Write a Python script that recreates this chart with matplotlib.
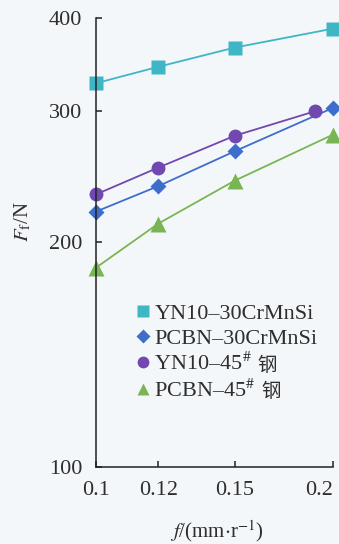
import matplotlib
matplotlib.use('Agg')
from matplotlib import pyplot as plt
from matplotlib.ticker import FixedLocator, FixedFormatter, NullLocator
from matplotlib.transforms import IdentityTransform

matplotlib.rcParams.update({
    'font.family': ['Liberation Serif', 'Noto Sans CJK SC'],
    'mathtext.fontset': 'stix',
})

# feed rate f (mm/r) and main cutting force Ff (N)
f = [0.1, 0.12, 0.15, 0.2]
f_yn10_45 = [0.1, 0.12, 0.15, 0.19]
yn10_cr = [327, 344, 365, 387]
pcbn_cr = [220, 238, 265, 303]
yn10_45 = [232, 252, 278, 300]
pcbn_45 = [185, 212, 242, 279]

xticks = [0.1, 0.12, 0.15, 0.2]
xticklabels = ['0.1', '0.12', '0.15', '0.2']
yticks = [100, 200, 300, 400]
yticklabels = ['100', '200', '300', '400']

bg = '#f4f7fa'
fig = plt.figure(figsize=(3.39, 5.44), dpi=100, facecolor=bg)
ax = fig.add_axes([0.283, 0.1415, 0.699, 0.8255], facecolor=bg)

ax.plot(f, yn10_cr, color='#3fb6c6', lw=1.3, marker='s', ms=10, mec='none',
        label='YN10–30CrMnSi', clip_on=False)
ax.plot(f, pcbn_cr, color='#3d6ecb', lw=1.3, marker='D', ms=8, mec='none',
        label='PCBN–30CrMnSi', clip_on=False)
ax.plot(f_yn10_45, yn10_45, color='#7048b0', lw=1.3, marker='o', ms=10, mec='none',
        label=r'YN10–45$^{\#}$', clip_on=False)
ax.plot(f, pcbn_45, color='#79b653', lw=1.3, marker='^', ms=11, mec='none',
        label=r'PCBN–45$^{\#}$', clip_on=False)

ax.set_xscale('log')
ax.set_yscale('log')
ax.set_xlim(0.1, 0.2)
ax.set_ylim(100, 400)
ax.xaxis.set_major_locator(FixedLocator(xticks))
ax.xaxis.set_major_formatter(FixedFormatter(xticklabels))
ax.yaxis.set_major_locator(FixedLocator(yticks))
ax.yaxis.set_major_formatter(FixedFormatter(yticklabels))
ax.xaxis.set_minor_locator(NullLocator())
ax.yaxis.set_minor_locator(NullLocator())

for s in ['top', 'right']:
    ax.spines[s].set_visible(False)
for s in ['left', 'bottom']:
    ax.spines[s].set_color('#222222')
    ax.spines[s].set_linewidth(1.1)
ax.tick_params(direction='in', length=4, width=1.1, colors='#222222',
               labelsize=16, labelcolor='#2e2e2e')
ax.tick_params(axis='x', pad=10)
ax.tick_params(axis='y', pad=10)
ax.get_xticklabels()[-1].set_ha('right')
ax.get_xticklabels()[-1].set_x(0.2)

ax.set_ylabel(r'$F_{\mathrm{f}}$/N', fontsize=15, color='#2e2e2e')
ax.yaxis.set_label_coords(-0.265, 0.546)
ax.set_xlabel(r'$f$/(mm$\cdot$r$^{-1}$)', fontsize=15, color='#2e2e2e')
ax.xaxis.set_label_coords(0.51, -0.115)

leg = ax.legend(loc='upper left', bbox_to_anchor=(0.125, 0.39), frameon=False,
                fontsize=16, handlelength=0.6, handletextpad=0.2,
                labelspacing=0.2, borderpad=0, markerscale=0.85)
for h in leg.legend_handles:
    h.set_linestyle('none')
for t in leg.get_texts():
    t.set_color('#2e2e2e')

# the CJK character goes after the superscripted labels
fig.canvas.draw()
r = fig.canvas.get_renderer()
for t in leg.get_texts()[2:]:
    bb = t.get_window_extent(r)
    fig.text(bb.x1 + 5, bb.y0 + 0.45 * bb.height, '钢', transform=IdentityTransform(),
             family='Noto Sans CJK SC', fontsize=14, color='#2e2e2e', va='center')

fig.savefig('out.png', dpi=100, facecolor=bg)
